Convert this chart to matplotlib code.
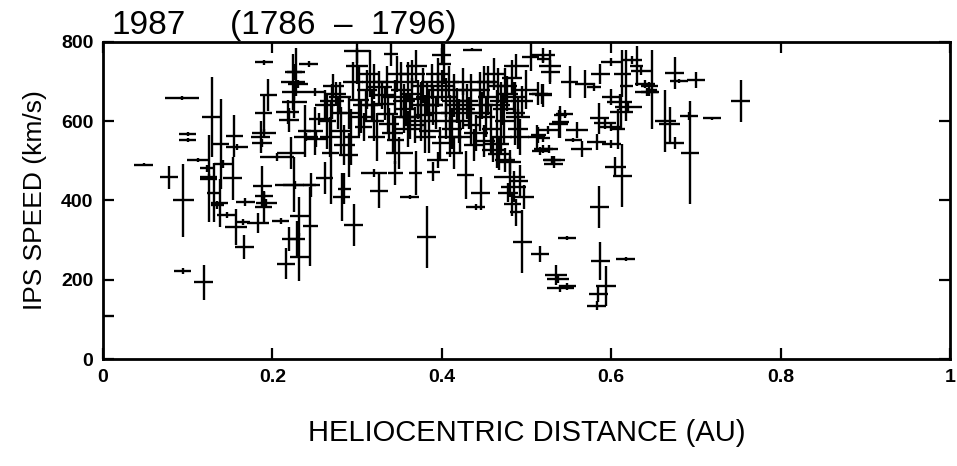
import matplotlib
matplotlib.use('Agg')
import matplotlib.pyplot as plt
import numpy as np

# IPS speed vs heliocentric distance, 1987 (Carrington rotations 1786-1796)
# each point: distance (AU), speed (km/s), distance error, speed error
pontos = [
    # x < 0.17
    (0.005, 108, 0.008, 2), (0.048, 490, 0.011, 4), (0.093, 658, 0.020, 5),
    (0.078, 459, 0.011, 29), (0.100, 567, 0.010, 5), (0.100, 553, 0.010, 5),
    (0.095, 400, 0.012, 92), (0.094, 222, 0.010, 8), (0.119, 194, 0.011, 44),
    (0.125, 455, 0.010, 110), (0.112, 502, 0.013, 6), (0.123, 481, 0.009, 8),
    (0.125, 460, 0.010, 8), (0.135, 389, 0.008, 10), (0.129, 611, 0.012, 100),
    (0.131, 420, 0.008, 75), (0.139, 543, 0.010, 113), (0.155, 563, 0.010, 52),
    (0.158, 535, 0.013, 8), (0.142, 493, 0.011, 10), (0.153, 456, 0.011, 55),
    (0.138, 393, 0.010, 60), (0.146, 363, 0.011, 8), (0.157, 333, 0.013, 46),
    (0.167, 282, 0.011, 30), (0.165, 346, 0.009, 8),
    # 0.17 - 0.26
    (0.190, 749, 0.011, 6), (0.188, 437, 0.011, 50), (0.190, 411, 0.011, 10),
    (0.193, 393, 0.012, 10), (0.190, 384, 0.010, 40), (0.183, 343, 0.013, 25),
    (0.168, 397, 0.011, 10), (0.186, 561, 0.011, 40), (0.190, 570, 0.014, 10),
    (0.188, 544, 0.012, 10), (0.190, 620, 0.010, 50), (0.195, 666, 0.010, 40),
    (0.224, 699, 0.014, 70), (0.228, 724, 0.011, 60), (0.225, 674, 0.014, 20),
    (0.226, 649, 0.015, 40), (0.218, 624, 0.014, 30), (0.220, 603, 0.012, 30),
    (0.243, 745, 0.011, 8), (0.250, 674, 0.011, 10), (0.255, 606, 0.012, 15),
    (0.250, 575, 0.010, 60), (0.252, 555, 0.012, 20), (0.240, 561, 0.014, 10),
    (0.222, 519, 0.017, 40), (0.205, 510, 0.020, 10), (0.227, 439, 0.024, 10),
    (0.225, 440, 0.012, 70), (0.232, 360, 0.011, 50), (0.229, 302, 0.009, 45),
    (0.232, 258, 0.011, 60), (0.216, 241, 0.011, 40), (0.245, 335, 0.009, 100),
    (0.210, 348, 0.010, 8), (0.220, 302, 0.009, 30), (0.246, 440, 0.010, 30),
    (0.225, 725, 0.010, 20), (0.230, 695, 0.012, 10), (0.238, 575, 0.008, 65),
    # 0.26 - 0.40
    (0.300, 778, 0.015, 30), (0.296, 338, 0.011, 53), (0.382, 308, 0.011, 78),
    (0.362, 409, 0.011, 6), (0.326, 425, 0.011, 45), (0.262, 456, 0.010, 40),
    (0.345, 469, 0.009, 30), (0.390, 473, 0.008, 25), (0.369, 470, 0.008, 55),
    (0.269, 520, 0.010, 130), (0.282, 409, 0.010, 60), (0.285, 430, 0.008, 40),
    (0.320, 469, 0.015, 10),
    (0.262, 640, 0.012, 40), (0.265, 600, 0.010, 70), (0.268, 560, 0.012, 50),
    (0.272, 690, 0.012, 30), (0.275, 668, 0.012, 30), (0.270, 650, 0.014, 45),
    (0.278, 620, 0.010, 40), (0.281, 575, 0.011, 60), (0.285, 540, 0.012, 50),
    (0.290, 515, 0.011, 55), (0.293, 560, 0.010, 70), (0.295, 700, 0.012, 50),
    (0.300, 740, 0.013, 45), (0.302, 653, 0.012, 90), (0.305, 610, 0.011, 40),
    (0.308, 586, 0.010, 35), (0.312, 680, 0.012, 50), (0.315, 720, 0.012, 60),
    (0.318, 640, 0.011, 40), (0.320, 600, 0.012, 50), (0.323, 560, 0.010, 60),
    (0.326, 686, 0.015, 40), (0.330, 665, 0.014, 35), (0.333, 644, 0.013, 40),
    (0.336, 619, 0.012, 45), (0.338, 594, 0.012, 40), (0.340, 770, 0.008, 30),
    (0.342, 570, 0.012, 50), (0.345, 553, 0.010, 60), (0.347, 720, 0.013, 45),
    (0.350, 519, 0.016, 40), (0.352, 680, 0.012, 70), (0.355, 650, 0.013, 45),
    (0.358, 630, 0.012, 40), (0.360, 700, 0.011, 50), (0.362, 610, 0.012, 55),
    (0.365, 670, 0.013, 40), (0.368, 590, 0.011, 45), (0.370, 740, 0.012, 40),
    (0.372, 655, 0.012, 50), (0.375, 640, 0.014, 60), (0.378, 690, 0.012, 45),
    (0.380, 615, 0.011, 50), (0.383, 660, 0.013, 40), (0.385, 575, 0.012, 55),
    (0.388, 700, 0.012, 45), (0.390, 640, 0.011, 50), (0.393, 620, 0.012, 40),
    (0.396, 680, 0.012, 45), (0.398, 545, 0.010, 40), (0.395, 503, 0.012, 20),
    (0.335, 700, 0.015, 40), (0.345, 660, 0.015, 45), (0.355, 610, 0.014, 40),
    (0.365, 720, 0.015, 35), (0.375, 600, 0.013, 50), (0.385, 640, 0.016, 40),
    (0.395, 720, 0.014, 40), (0.320, 700, 0.014, 45), (0.310, 640, 0.015, 40),
    (0.290, 620, 0.014, 40), (0.280, 660, 0.013, 40), (0.380, 560, 0.013, 40),
    (0.360, 580, 0.014, 45),
    # 0.40 - 0.52
    (0.403, 744, 0.008, 50), (0.400, 766, 0.011, 20), (0.405, 660, 0.012, 50),
    (0.408, 700, 0.012, 40), (0.410, 620, 0.011, 45), (0.412, 580, 0.012, 50),
    (0.415, 680, 0.013, 40), (0.418, 640, 0.012, 45), (0.420, 600, 0.011, 55),
    (0.422, 560, 0.012, 40), (0.425, 700, 0.011, 35), (0.428, 465, 0.010, 60),
    (0.430, 650, 0.013, 45), (0.432, 620, 0.012, 40), (0.435, 590, 0.011, 50),
    (0.438, 540, 0.012, 40), (0.440, 384, 0.011, 8), (0.446, 418, 0.011, 42),
    (0.436, 780, 0.011, 4), (0.415, 520, 0.010, 40),
    (0.445, 680, 0.012, 45), (0.448, 640, 0.013, 35), (0.450, 700, 0.014, 40),
    (0.452, 610, 0.011, 50), (0.455, 660, 0.012, 45), (0.458, 580, 0.011, 60),
    (0.460, 527, 0.013, 30), (0.462, 720, 0.012, 40), (0.465, 543, 0.014, 60),
    (0.466, 690, 0.012, 45), (0.468, 518, 0.014, 40), (0.470, 650, 0.013, 50),
    (0.472, 630, 0.012, 40), (0.474, 600, 0.011, 55), (0.475, 502, 0.012, 30),
    (0.477, 670, 0.013, 45), (0.480, 460, 0.018, 50), (0.481, 497, 0.012, 30),
    (0.483, 710, 0.012, 45), (0.485, 435, 0.015, 40), (0.487, 620, 0.011, 80),
    (0.488, 739, 0.015, 30), (0.490, 580, 0.012, 50), (0.492, 560, 0.011, 45),
    (0.495, 650, 0.013, 40), (0.497, 409, 0.012, 30), (0.500, 680, 0.012, 50),
    (0.495, 296, 0.011, 80), (0.505, 763, 0.010, 35), (0.520, 766, 0.014, 20),
    (0.514, 670, 0.011, 30), (0.512, 560, 0.010, 30), (0.516, 526, 0.009, 10),
    (0.516, 266, 0.011, 20), (0.483, 390, 0.010, 30), (0.478, 420, 0.012, 25),
    (0.492, 450, 0.010, 40), (0.488, 370, 0.008, 35),
    (0.405, 600, 0.014, 45), (0.415, 650, 0.015, 40), (0.425, 630, 0.014, 50),
    (0.435, 680, 0.015, 40), (0.445, 620, 0.014, 45), (0.455, 700, 0.013, 40),
    (0.465, 640, 0.015, 40), (0.475, 690, 0.014, 45), (0.485, 660, 0.015, 40),
    (0.490, 610, 0.014, 50), (0.470, 560, 0.013, 40), (0.400, 690, 0.014, 40),
    (0.410, 560, 0.014, 50), (0.440, 570, 0.014, 45), (0.450, 550, 0.013, 40),
    # 0.52 - 0.65
    (0.551, 699, 0.010, 40), (0.518, 669, 0.012, 25), (0.528, 725, 0.011, 30),
    (0.538, 593, 0.011, 35), (0.540, 615, 0.008, 10), (0.514, 565, 0.009, 20),
    (0.527, 530, 0.010, 10), (0.530, 503, 0.011, 10), (0.532, 491, 0.011, 8),
    (0.569, 694, 0.012, 35), (0.580, 686, 0.008, 10), (0.587, 720, 0.011, 25),
    (0.600, 749, 0.012, 10), (0.624, 754, 0.012, 10), (0.635, 728, 0.012, 12),
    (0.640, 694, 0.012, 10), (0.642, 673, 0.014, 10), (0.600, 661, 0.011, 20),
    (0.610, 648, 0.015, 20), (0.620, 636, 0.016, 10), (0.612, 624, 0.014, 40),
    (0.586, 607, 0.011, 40), (0.593, 595, 0.013, 15), (0.600, 586, 0.013, 10),
    (0.605, 485, 0.012, 25), (0.608, 580, 0.008, 50), (0.613, 463, 0.011, 80),
    (0.600, 543, 0.011, 10), (0.560, 578, 0.013, 20), (0.565, 530, 0.012, 20),
    (0.583, 547, 0.011, 20), (0.555, 552, 0.010, 5), (0.520, 530, 0.011, 10),
    (0.520, 558, 0.008, 10), (0.533, 501, 0.012, 12), (0.540, 598, 0.010, 40),
    (0.545, 619, 0.010, 10), (0.525, 577, 0.012, 10), (0.520, 665, 0.010, 30),
    (0.528, 740, 0.013, 40), (0.520, 758, 0.008, 8), (0.586, 384, 0.011, 53),
    (0.548, 306, 0.011, 5), (0.535, 213, 0.013, 25), (0.537, 203, 0.013, 12),
    (0.540, 178, 0.016, 10), (0.548, 183, 0.010, 8), (0.587, 248, 0.011, 48),
    (0.617, 253, 0.011, 5), (0.594, 185, 0.012, 50), (0.583, 135, 0.011, 12),
    (0.585, 165, 0.011, 20), (0.613, 720, 0.010, 60), (0.618, 690, 0.008, 90),
    (0.630, 740, 0.008, 50),
    # x > 0.64
    (0.753, 650, 0.011, 53), (0.719, 607, 0.011, 4), (0.693, 521, 0.011, 129),
    (0.692, 614, 0.011, 10), (0.700, 705, 0.011, 20), (0.675, 722, 0.011, 40),
    (0.680, 701, 0.011, 5), (0.664, 601, 0.012, 78), (0.669, 592, 0.012, 45),
    (0.675, 545, 0.011, 15), (0.645, 690, 0.010, 10), (0.645, 673, 0.010, 10),
    (0.648, 680, 0.006, 100),
]

distancia = [p[0] for p in pontos]
velocidade = [p[1] for p in pontos]
erro_dist = [p[2] for p in pontos]
erro_vel = [p[3] for p in pontos]

x_ticks = [0, 0.2, 0.4, 0.6, 0.8, 1]
x_labels = ['0', '0.2', '0.4', '0.6', '0.8', '1']
y_ticks = [0, 200, 400, 600, 800]

fig = plt.figure(figsize=(9.57, 4.66), dpi=100)
ax = fig.add_axes([0.1076, 0.2296, 0.8851, 0.6803])

ax.errorbar(distancia, velocidade, xerr=erro_dist, yerr=erro_vel,
            fmt='none', ecolor='black', elinewidth=1.7, capsize=0)

ax.set_xlim(0, 1)
ax.set_ylim(0, 800)
ax.set_xticks(x_ticks)
ax.set_xticklabels(x_labels)
ax.set_yticks(y_ticks)
ax.tick_params(direction='in', length=8, width=1.6, top=True, right=True,
               labelsize=14, pad=7)
for lab in ax.get_xticklabels() + ax.get_yticklabels():
    lab.set_fontweight('bold')
    lab.set_family(['Liberation Sans', 'DejaVu Sans'])
for s in ax.spines.values():
    s.set_linewidth(2)

fonte = ['Liberation Sans', 'DejaVu Sans']
ax.set_xlabel('HELIOCENTRIC DISTANCE (AU)', fontsize=21, family=fonte,
              labelpad=24)
ax.set_ylabel('IPS SPEED (km/s)', fontsize=19, family=fonte, labelpad=10)

fig.text(0.117, 0.912, '1987', fontsize=24, family=fonte,
         ha='left', va='bottom')
fig.text(0.240, 0.912, '(1786  \u2013  1796)', fontsize=24,
         family=fonte, ha='left', va='bottom')

fig.savefig('out.png', dpi=100)
